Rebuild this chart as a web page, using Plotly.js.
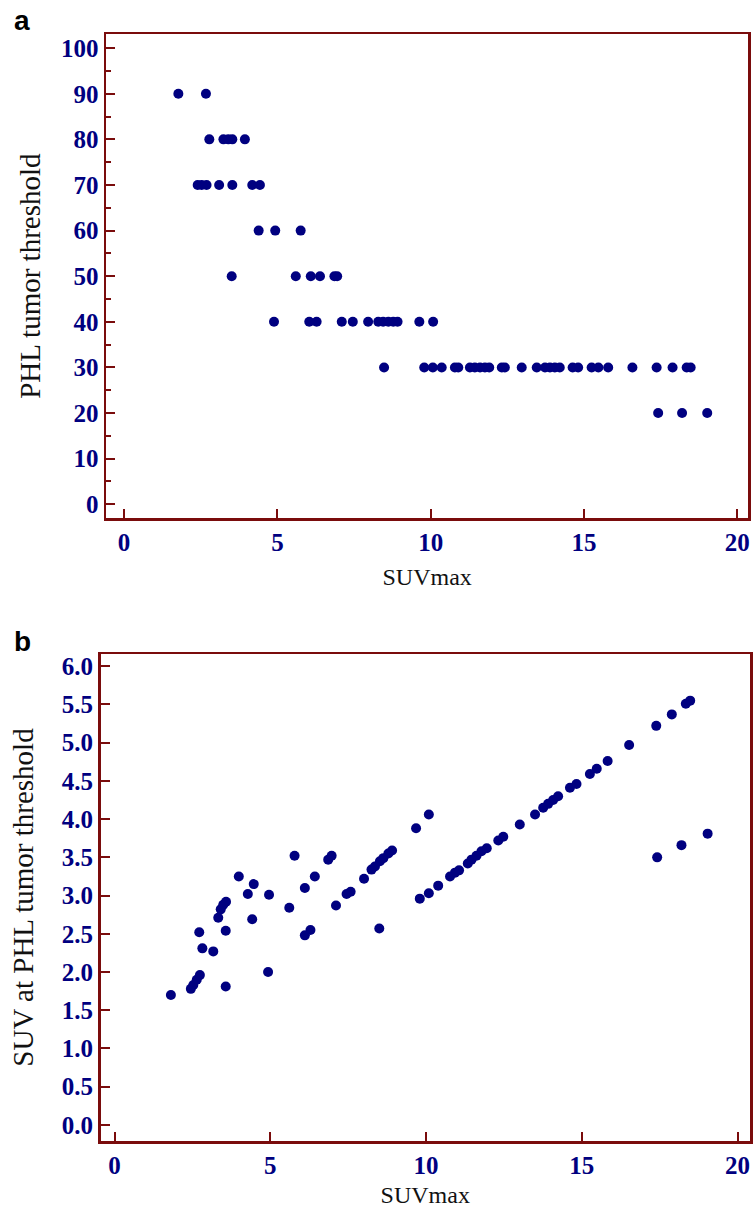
<!DOCTYPE html>
<html>
<head>
<meta charset="utf-8">
<script src="https://cdn.plot.ly/plotly-3.0.1.min.js"></script>
<style>html,body{margin:0;padding:0;background:#fff;}#chart{width:753px;height:1213px;}</style>
</head>
<body>
<div id="chart"></div>
<script>
// Panel a: SUVmax vs PHL tumor threshold (%)
const suvmaxA = [1.77, 2.67,
  2.78, 3.24, 3.40, 3.53, 3.94,
  2.40, 2.53, 2.69, 3.10, 3.53, 4.18, 4.43,
  4.39, 4.93, 5.76,
  3.51, 5.60, 6.09, 6.39, 6.86, 6.95,
  4.89, 6.04, 6.28, 7.10, 7.46, 7.96, 8.29, 8.45, 8.62, 8.78, 8.92, 9.63, 10.08,
  8.48, 9.79, 10.07, 10.36, 10.79, 10.90, 11.28, 11.44, 11.61, 11.77, 11.91, 12.32, 12.42, 12.97,
  13.46, 13.73, 13.89, 14.05, 14.21, 14.63, 14.81, 15.25, 15.47, 15.79, 16.58, 17.37, 17.89, 18.35, 18.48,
  17.42, 18.20, 19.02];
const thresholdA = [90, 90,
  80, 80, 80, 80, 80,
  70, 70, 70, 70, 70, 70, 70,
  60, 60, 60,
  50, 50, 50, 50, 50, 50,
  40, 40, 40, 40, 40, 40, 40, 40, 40, 40, 40, 40, 40,
  30, 30, 30, 30, 30, 30, 30, 30, 30, 30, 30, 30, 30, 30,
  30, 30, 30, 30, 30, 30, 30, 30, 30, 30, 30, 30, 30, 30, 30,
  20, 20, 20];

// Panel b: SUVmax vs SUV at PHL tumor threshold
const suvmaxB = [1.81, 2.45, 2.53, 2.64, 2.74, 3.57, 4.93,
  2.72, 2.82, 3.17, 3.57, 3.33, 3.41, 3.49, 3.58,
  3.99, 4.28, 4.47, 4.42, 4.96, 5.78, 5.61, 6.11, 6.43,
  6.11, 6.29, 6.86, 6.97, 7.11, 7.45,
  7.58, 8.01, 8.25, 8.36, 8.52, 8.63, 8.79, 8.91, 8.50,
  9.68, 10.09, 9.80, 10.09, 10.39, 10.77, 10.93, 11.06,
  11.34, 11.46, 11.62, 11.78, 11.95, 12.32, 12.48, 13.01, 13.50,
  13.76, 13.92, 14.08, 14.24, 14.62, 14.83, 15.26, 15.48, 15.83, 16.52,
  17.39, 17.89, 18.34, 18.48, 17.42, 18.20, 19.04];
const suvThrB = [1.70, 1.78, 1.83, 1.90, 1.96, 1.81, 2.00,
  2.52, 2.31, 2.27, 2.54, 2.71, 2.82, 2.88, 2.92,
  3.25, 3.02, 3.15, 2.69, 3.01, 3.52, 2.84, 3.10, 3.25,
  2.48, 2.55, 3.47, 3.52, 2.87, 3.02,
  3.05, 3.22, 3.34, 3.38, 3.45, 3.49, 3.55, 3.59, 2.57,
  3.88, 4.06, 2.96, 3.03, 3.13, 3.25, 3.30, 3.33,
  3.42, 3.47, 3.52, 3.58, 3.62, 3.72, 3.77, 3.93, 4.06,
  4.15, 4.20, 4.25, 4.30, 4.41, 4.46, 4.59, 4.66, 4.76, 4.97,
  5.22, 5.37, 5.51, 5.55, 3.50, 3.66, 3.81];

const W = 753, H = 1213;
const frame = '#7a0c0c';
const navy = '#000080';
const tickFont = {family: 'Liberation Serif, Times New Roman, serif', size: 25, color: navy, weight: 'bold'};
const xTitleFont = {family: 'Liberation Serif, Times New Roman, serif', size: 24, color: '#111'};
const yTitleFont = {family: 'Liberation Serif, Times New Roman, serif', size: 29, color: '#111'};
const marker = {color: navy, size: 10, symbol: 'circle', line: {width: 0}};

function axisBase() {
  return {showline: true, mirror: true, linecolor: frame, linewidth: 2.5,
    showgrid: false, zeroline: false, ticks: 'inside', tickcolor: frame,
    tickwidth: 2, ticklen: 9, tickfont: tickFont, fixedrange: true};
}

const traces = [
  {x: suvmaxA, y: thresholdA, type: 'scatter', mode: 'markers', marker: marker, xaxis: 'x', yaxis: 'y', hoverinfo: 'x+y'},
  {x: suvmaxB, y: suvThrB, type: 'scatter', mode: 'markers', marker: marker, xaxis: 'x2', yaxis: 'y2', hoverinfo: 'x+y'}
];

const layout = {
  width: W, height: H,
  margin: {l: 0, r: 0, t: 0, b: 0},
  paper_bgcolor: '#fff', plot_bgcolor: '#fff',
  showlegend: false,
  xaxis: Object.assign(axisBase(), {
    domain: [106/W, 748.3/W], anchor: 'y', range: [-0.59, 20.36],
    tickvals: [0, 5, 10, 15, 20],
    title: {text: 'SUVmax', font: xTitleFont, standoff: 14}
  }),
  yaxis: Object.assign(axisBase(), {
    domain: [1 - 518.3/H, 1 - 34/H], anchor: 'x', range: [-3.07, 103.1],
    tickvals: [0, 10, 20, 30, 40, 50, 60, 70, 80, 90, 100],
    minor: {dtick: 5, tick0: 0, ticks: 'inside', ticklen: 5, tickcolor: frame, tickwidth: 2, showgrid: false},
    title: {text: 'PHL tumor threshold', font: yTitleFont, standoff: 12}
  }),
  xaxis2: Object.assign(axisBase(), {
    domain: [100.5/W, 750/W], anchor: 'y2', range: [-0.45, 20.4],
    tickvals: [0, 5, 10, 15, 20],
    title: {text: 'SUVmax', font: xTitleFont, standoff: 9}
  }),
  yaxis2: Object.assign(axisBase(), {
    domain: [1 - 1141/H, 1 - 654/H], anchor: 'x2', range: [-0.21, 6.16],
    tickvals: [0, 0.5, 1, 1.5, 2, 2.5, 3, 3.5, 4, 4.5, 5, 5.5, 6],
    tickformat: '.1f',
    title: {text: 'SUV at PHL tumor threshold', font: yTitleFont, standoff: 20}
  }),
  annotations: [
    {text: 'a', x: 12/W, y: 1 - 3/H, xref: 'paper', yref: 'paper', xanchor: 'left', yanchor: 'top', showarrow: false,
     font: {family: 'Liberation Sans, Arial, sans-serif', size: 28, color: '#000', weight: 'bold'}},
    {text: 'b', x: 12/W, y: 1 - 624/H, xref: 'paper', yref: 'paper', xanchor: 'left', yanchor: 'top', showarrow: false,
     font: {family: 'Liberation Sans, Arial, sans-serif', size: 28, color: '#000', weight: 'bold'}}
  ]
};

Plotly.newPlot('chart', traces, layout, {displayModeBar: false, staticPlot: true});
</script>
</body>
</html>
